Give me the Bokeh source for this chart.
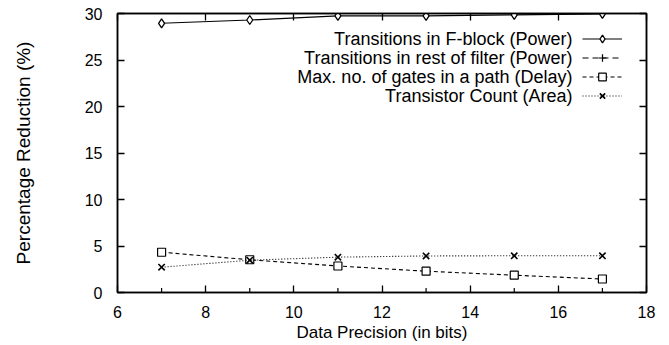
import numpy as np
from bokeh.plotting import figure
from bokeh.models import Range1d, FixedTicker, LinearAxis, Legend, LegendItem, Label
from bokeh.embed import file_html
from bokeh.resources import INLINE

# ---- data ----
bits = [7, 9, 11, 13, 15, 17]
fblock_power = [28.95, 29.3, 29.75, 29.75, 29.85, 29.95]
rest_power = [0.0, 0.0, 0.0, 0.0, 0.0, 0.0]
delay_gates = [4.33, 3.52, 2.85, 2.29, 1.86, 1.45]
area_transistors = [2.72, 3.47, 3.8, 3.93, 3.95, 3.95]
series_labels = [
    "Transitions in F-block (Power)",
    "Transitions in rest of filter (Power)",
    "Max. no. of gates in a path (Delay)",
    "Transistor Count (Area)",
]
x_ticks = [6, 8, 10, 12, 14, 16, 18]
y_ticks = [0, 5, 10, 15, 20, 25, 30]
x_title = "Data Precision (in bits)"
y_title = "Percentage Reduction (%)"

FONT = "Liberation Sans"

p = figure(width=669, height=345, output_backend="svg", toolbar_location=None,
           x_range=Range1d(6, 18), y_range=Range1d(0, 30),
           min_border_left=117, min_border_right=23, min_border_top=13, min_border_bottom=53)
p.xgrid.visible = False
p.ygrid.visible = False
p.background_fill_color = "white"
p.border_fill_color = "white"
p.outline_line_color = "black"
p.outline_line_width = 1.5

def style_axis(ax, show_labels):
    ax.axis_line_color = "black"
    ax.axis_line_width = 1.5
    ax.major_tick_in = 7
    ax.major_tick_out = 0
    ax.major_tick_line_width = 1.3
    ax.major_tick_line_color = "black"
    ax.minor_tick_line_color = None
    ax.major_label_text_font = FONT
    if show_labels:
        ax.major_label_text_font_size = "16px"
        ax.major_label_text_color = "black"
    else:
        ax.major_label_text_font_size = "1px"
        ax.major_label_text_color = None
        ax.major_label_standoff = 0

p.xaxis.ticker = FixedTicker(ticks=x_ticks)
p.yaxis.ticker = FixedTicker(ticks=y_ticks)
style_axis(p.xaxis[0], True)
style_axis(p.yaxis[0], True)
p.xaxis.major_label_standoff = 13
p.yaxis.major_label_standoff = 15
p.xaxis.axis_label = x_title
p.yaxis.axis_label = y_title
for ax in (p.xaxis[0], p.yaxis[0]):
    ax.axis_label_text_font = FONT
    ax.axis_label_text_font_style = "normal"
    ax.axis_label_text_color = "black"
p.xaxis.axis_label_text_font_size = "17px"
p.yaxis.axis_label_text_font_size = "19px"
p.xaxis.axis_label_standoff = 2
p.yaxis.axis_label_standoff = 48

top_ax = LinearAxis(ticker=FixedTicker(ticks=x_ticks))
style_axis(top_ax, False)
p.add_layout(top_ax, "above")
right_ax = LinearAxis(ticker=FixedTicker(ticks=y_ticks))
style_axis(right_ax, False)
p.add_layout(right_ax, "right")

# ---- series ----
l1 = p.line(bits, fblock_power, line_color="black", line_width=1.2)
s1 = p.scatter(bits, fblock_power, marker="diamond", size=9,
               line_color="black", fill_color="white", line_width=1.3)
l2 = p.line(bits, rest_power, line_color="black", line_width=1.1, line_dash="6 4")
s2 = p.scatter(bits, rest_power, marker="cross", size=9, line_color="black", line_width=1.2)
l3 = p.line(bits, delay_gates, line_color="black", line_width=1.1, line_dash="4 3")
s3 = p.scatter(bits, delay_gates, marker="square", size=8, line_color="black",
               fill_color="white", line_width=1.2)
l4 = p.line(bits, area_transistors, line_color="black", line_width=1.1, line_dash="1 2")
s4 = p.scatter(bits, area_transistors, marker="x", size=9, line_color="black", line_width=1.6)

# ---- legend: samples (right) + right-aligned texts (left) ----
row_h = 19
items = [LegendItem(label="", renderers=[l, s]) for l, s in
         [(l1, s1), (l2, s2), (l3, s3), (l4, s4)]]
legend = Legend(items=items, location=(465, 187), glyph_width=40, glyph_height=row_h,
                label_width=0, label_standoff=0, label_text_font_size="1px",
                label_text_color=None,
                spacing=0, padding=0, margin=0, border_line_color=None,
                background_fill_alpha=0)
p.add_layout(legend)

for i, txt in enumerate(series_labels):
    p.add_layout(Label(x=455, y=254 - i * row_h, x_units="screen", y_units="screen",
                       text=txt, text_align="right", text_baseline="middle",
                       text_font=FONT, text_font_size="18px", text_color="black"))

open("out.html", "w").write(file_html(p, INLINE))
